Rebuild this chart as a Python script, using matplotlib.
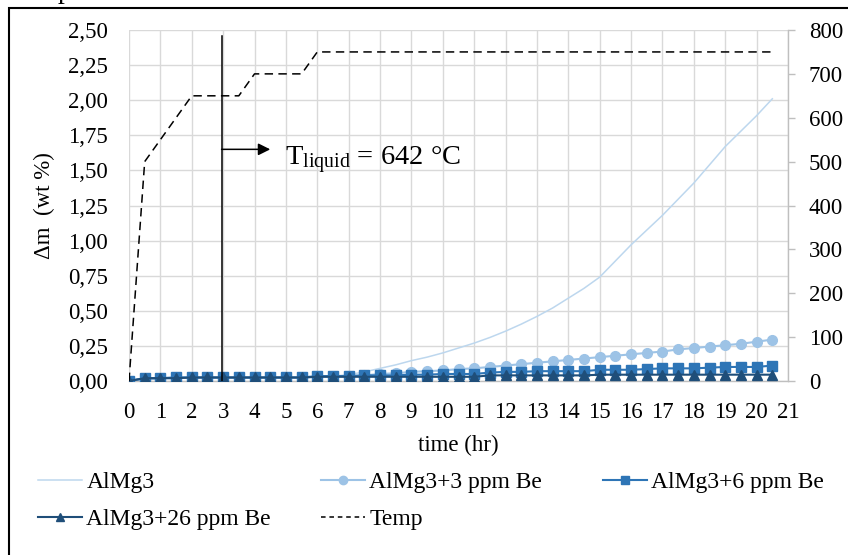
import matplotlib
matplotlib.use("Agg")
import matplotlib.pyplot as plt
from matplotlib.ticker import FuncFormatter, MultipleLocator
from matplotlib.lines import Line2D
from matplotlib.patches import Rectangle

plt.rcParams['font.family'] = ['Liberation Serif', 'DejaVu Serif']
plt.rcParams['mathtext.fontset'] = 'custom'
plt.rcParams['mathtext.rm'] = 'Liberation Serif'
plt.rcParams['mathtext.it'] = 'Liberation Serif:italic'

# ---------------- data ----------------
time_hr = [0, 0.5, 1, 1.5, 2, 2.5, 3, 3.5, 4, 4.5, 5, 5.5, 6, 6.5, 7, 7.5, 8, 8.5,
           9, 9.5, 10, 10.5, 11, 11.5, 12, 12.5, 13, 13.5, 14, 14.5, 15, 15.5, 16,
           16.5, 17, 17.5, 18, 18.5, 19, 19.5, 20, 20.5]

almg3 = [0.00, 0.01, 0.015, 0.02, 0.02, 0.02, 0.02, 0.02, 0.02, 0.02, 0.02, 0.02,
         0.03, 0.035, 0.045, 0.065, 0.09, 0.115, 0.145, 0.17, 0.20, 0.235, 0.27,
         0.31, 0.355, 0.405, 0.46, 0.52, 0.59, 0.66, 0.74, 0.855, 0.97, 1.075,
         1.18, 1.295, 1.41, 1.54, 1.67, 1.78, 1.89, 2.01]

almg3_3be = [0.00, 0.02, 0.02, 0.025, 0.025, 0.025, 0.025, 0.025, 0.025, 0.025,
             0.025, 0.025, 0.03, 0.03, 0.035, 0.04, 0.05, 0.055, 0.065, 0.07,
             0.075, 0.085, 0.09, 0.10, 0.11, 0.12, 0.13, 0.14, 0.15, 0.16, 0.17,
             0.18, 0.19, 0.20, 0.21, 0.225, 0.235, 0.245, 0.255, 0.265, 0.28, 0.295]

almg3_6be = [0.00, 0.02, 0.02, 0.025, 0.025, 0.025, 0.025, 0.025, 0.025, 0.025,
             0.025, 0.025, 0.035, 0.035, 0.035, 0.04, 0.04, 0.04, 0.045, 0.045,
             0.05, 0.05, 0.05, 0.06, 0.065, 0.065, 0.07, 0.07, 0.07, 0.07, 0.08,
             0.08, 0.08, 0.085, 0.09, 0.09, 0.09, 0.095, 0.10, 0.10, 0.10, 0.11]

almg3_26be = [0.00, 0.02, 0.02, 0.02, 0.025, 0.025, 0.025, 0.025, 0.025, 0.025,
              0.025, 0.025, 0.03, 0.03, 0.03, 0.03, 0.03, 0.03, 0.03, 0.03,
              0.03, 0.03, 0.03, 0.04, 0.04, 0.04, 0.04, 0.04, 0.04, 0.04, 0.045,
              0.045, 0.045, 0.045, 0.045, 0.045, 0.045, 0.045, 0.045, 0.045, 0.045, 0.045]

temp_time = [0, 0.5, 2, 3.5, 4, 5.5, 6, 20.5]
temp_c = [0, 500, 650, 650, 700, 700, 750, 750]

labels = ["AlMg3", "AlMg3+3 ppm Be", "AlMg3+6 ppm Be", "AlMg3+26 ppm Be", "Temp"]
t_liquid_x = 2.95

# ---------------- figure ----------------
W, H = 848, 555
fig = plt.figure(figsize=(W / 100, H / 100), dpi=100)
L, R, T, B = 129, 788, 30, 381
ax = fig.add_axes([L / W, 1 - B / H, (R - L) / W, (B - T) / H])

c_almg3 = '#BDD7EE'
c_3 = '#9DC3E6'
c_6 = '#2E75B6'
c_26 = '#1F4E79'
grid_c = '#D9D9D9'
axis_c = '#BFBFBF'

ax.plot(time_hr, almg3, color=c_almg3, lw=1.1, zorder=3)
ax.plot(time_hr, almg3_3be, color=c_3, lw=1.5, marker='o', ms=7,
        markeredgecolor=c_3, zorder=4)
ax.plot(time_hr, almg3_6be, color=c_6, lw=1.5, marker='s', ms=6.5,
        markeredgecolor=c_6, zorder=5)
ax.plot(time_hr, almg3_26be, color=c_26, lw=1.5, marker='^', ms=7,
        markeredgecolor=c_26, zorder=6)

ax.set_xlim(0, 21)
ax.set_ylim(0, 2.5)
ax.xaxis.set_major_locator(MultipleLocator(1))
ax.yaxis.set_major_locator(MultipleLocator(0.25))
ax.yaxis.set_major_formatter(FuncFormatter(lambda v, p: f'{v:.2f}'.replace('.', ',')))
ax.grid(True, color=grid_c, lw=1.0)
ax.set_axisbelow(True)
for s in ['left', 'top', 'right']:
    ax.spines[s].set_visible(False)
ax.spines['bottom'].set_color(axis_c)
ax.spines['bottom'].set_linewidth(1.0)
ax.tick_params(axis='x', length=0, pad=15, labelsize=16.5)
ax.tick_params(axis='y', length=0, pad=15, labelsize=16.5)
ax.set_xlabel('time (hr)', fontsize=16.5, labelpad=9)
ax.set_ylabel('Δm  (wt %)', fontsize=16.5)
ax.yaxis.set_label_coords(-0.112, 0.5)

ax2 = ax.twinx()
ax2.plot(temp_time, temp_c, color='black', lw=1.1, ls=(0, (5.5, 3.5)), zorder=5)
ax2.set_ylim(0, 800)
ax2.yaxis.set_major_locator(MultipleLocator(100))
for s in ['left', 'top', 'bottom']:
    ax2.spines[s].set_visible(False)
ax2.spines['right'].set_color(axis_c)
ax2.spines['right'].set_linewidth(1.0)
ax2.tick_params(axis='y', length=5, width=1.0, color=axis_c, pad=10, labelsize=16.5)

# T_liquid annotation
ax2.plot([t_liquid_x, t_liquid_x], [0, 2.457], color='black', lw=1.1,
         transform=ax.transData, zorder=7)
ax2.annotate('', xy=(4.5, 1.65), xytext=(t_liquid_x, 1.65),
             xycoords=ax.transData, textcoords=ax.transData,
             arrowprops=dict(arrowstyle='-|>', color='black', lw=1.1,
                             mutation_scale=18, shrinkA=0, shrinkB=0))
ax2.text(4.97, 1.535, r'$\mathrm{T}_{\mathrm{liquid}}$ = 642 °C', fontsize=20.5,
         transform=ax.transData, va='baseline', ha='left')

# legend (row-major positions like the original)
handles = [
    Line2D([], [], color=c_almg3, lw=1.1),
    Line2D([], [], color=c_3, lw=1.5, marker='o', ms=6, markeredgecolor=c_3),
    Line2D([], [], color=c_6, lw=1.5, marker='s', ms=6, markeredgecolor=c_6),
    Line2D([], [], color=c_26, lw=1.5, marker='^', ms=6, markeredgecolor=c_26),
    Line2D([], [], color='black', lw=1.1, ls=(0, (3, 2.5))),
]
pos = [(38, 482), (321, 482), (603, 482), (38, 519), (321, 519)]
for h, lab, (px, py) in zip(handles, labels, pos):
    fig.legend([h], [lab], loc='center left', bbox_to_anchor=(px / W, 1 - py / H),
               frameon=False, fontsize=17, handlelength=1.85, handletextpad=0.2,
               borderpad=0, borderaxespad=0)

# outer frame (cropped) and clipped title remnant visible at the top edge
fig.add_artist(Rectangle((9 / W, -0.2), 1.2, 1 - 8 / H + 0.2, transform=fig.transFigure,
                         fill=False, lw=1.5, edgecolor='black', clip_on=False))
fig.text(58 / W, 1 + 2 / H, 'p', fontsize=20, va='baseline', ha='left')

fig.savefig('out.png', dpi=100)
